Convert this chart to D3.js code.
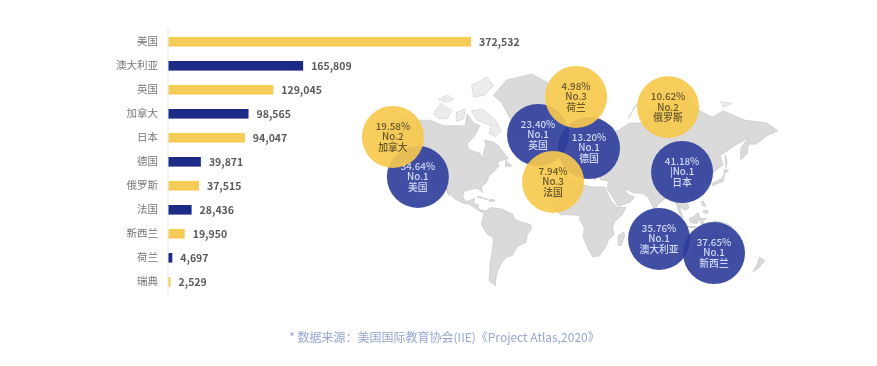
<!DOCTYPE html>
<html><head><meta charset="utf-8">
<script src="https://cdn.jsdelivr.net/npm/d3@7/dist/d3.min.js"></script>
<style>
html,body{margin:0;padding:0;background:#fff}
svg{display:block}
text{font-family:"Noto Sans CJK SC","Open Sans",sans-serif}
</style></head><body>
<svg id="c" width="877" height="366"></svg>
<script>
const categories=["美国","澳大利亚","英国","加拿大","日本","德国","俄罗斯","法国","新西兰","荷兰","瑞典"];
const values=[372532,165809,129045,98565,94047,39871,37515,28436,19950,4697,2529];
const barColors=["#f6cb56","#1c2a87"];
const bubbleCountry=["美国","加拿大","英国","德国","荷兰","法国","俄罗斯","日本","澳大利亚","新西兰"];
const bubbleShare=["34.64%","19.58%","23.40%","13.20%","4.98%","7.94%","10.62%","41.18%","35.76%","37.65%"];
const bubbleRank=["No.1","No.2","No.1","No.1","No.3","No.3","No.2","|No.1","No.1","No.1"];
const bubbleLon=[-139,-161.8,-29.2,17.4,5.5,-15.5,89.6,102.4,81.4,131.6];
const bubbleLat=[39.2,63.4,64.3,58,76.6,35.2,74,42.9,-19,-31.7];
const sourceText="* 数据来源：美国国际教育协会(IIE)《Project Atlas,2020》";
const land=[
// North America
[[-168,66],[-162,70],[-156,71],[-141,70],[-128,70],[-115,68],[-108,68],[-96,68],[-94,72],[-88,69],[-82,68],[-87,64],[-94,60],[-92,57],[-82,55],[-80,51],[-79,55],[-77,60],[-78,62],[-70,61],[-65,59],[-60,55],[-56,52],[-66,50],[-65,47],[-70,43],[-74,40],[-76,35],[-81,31],[-80,26],[-82,28],[-85,30],[-90,29],[-97,27],[-98,22],[-95,18],[-91,19],[-87,21],[-88,16],[-84,15],[-83,10],[-79,9],[-77,8],[-80,7],[-85,10],[-92,15],[-97,16],[-105,20],[-110,25],[-113,31],[-110,23],[-115,30],[-120,34],[-124,40],[-124,48],[-130,54],[-140,60],[-150,60],[-158,56],[-165,55],[-158,59],[-165,62]],
// Greenland
[[-70,77],[-58,80],[-35,81],[-20,79.5],[-20,74],[-26,69],[-40,65],[-44,60],[-52,65],[-54,70],[-62,75]],
[[-59,51],[-53,47],[-59,47]],
[[-85,22],[-75,20],[-78,20],[-82,22.5]],
[[-74,19.8],[-69,19.5],[-69,18],[-74,18]],
// South America
[[-78,8],[-72,12],[-62,10.5],[-52,5],[-50,0],[-44,-2.5],[-36,-5],[-35,-9],[-39,-15],[-40,-22],[-48,-26],[-53,-34],[-58,-35],[-62,-39],[-66,-45],[-68,-52],[-68,-55],[-74,-52],[-73,-40],[-71,-30],[-70,-18],[-76,-14],[-81,-5],[-80,1]],
// Africa
[[-17,15],[-16,22],[-10,30],[-6,36],[10,37],[11,33],[20,31],[32,31],[35,24],[38,18],[43,12],[51,12],[48,5],[41,-2],[39,-8],[40,-15],[35,-20],[33,-26],[27,-34],[21,-35],[16,-27],[12,-17],[13,-8],[9,0],[9,4],[-4,5],[-8,4.5],[-13,9]],
[[44,-16],[49,-12],[50,-16],[47,-25],[44,-25]],
// Eurasia
[[-9,37],[-9,43],[-1,44],[-4,48],[3,51],[8,54],[9,57],[12,54],[20,55],[24,59],[30,60],[22,60],[22,65],[18,62],[16,56],[12,56],[5,59],[6,62],[14,68],[25,71],[40,67],[34,65],[44,66],[54,69],[68,69],[72,73],[85,74],[105,78],[113,74],[130,71],[140,73],[160,70],[180,69],[190,66],[180,64],[170,60],[163,60],[162,55],[156,51],[156,58],[163,63],[150,59],[140,55],[137,54],[140,48],[130,42],[128,39],[129,35],[126,35],[125,39],[121,39],[118,38],[122,31],[120,26],[113,22],[108,21],[106,18],[109,12],[105,9],[100,13],[103,2],[100,6],[97,16],[91,22],[86,20],[80,15],[78,8],[73,18],[72,21],[67,25],[57,26],[50,30],[52,25],[59,22],[55,17],[44,13],[39,22],[34,29],[35,36],[28,37],[26,40],[23,37],[20,41],[13,45],[18,40],[16,38],[10,44],[3,43],[0,39],[-5,36]],
[[-6,50],[1,51],[-2,56],[-4,58.5],[-6,56],[-3,54]],
[[-10,52],[-6,52],[-6,55],[-9,54]],
[[-24,65],[-14,65],[-18,63.5],[-23,64]],
[[142,54],[143.5,50],[142.5,46],[141.8,50]],
[[130,32],[135,34],[140,35.5],[141,40],[141,45],[145,44],[141,41.5],[139,38],[133,35.5],[130,34]],
[[120,25],[122,25],[121,22]],
[[80,9.5],[82,7],[80,6]],
[[95,5.5],[104,-2],[106,-6],[102,-4],[98,1]],
[[109,1],[113,3],[117,7],[119,1],[116,-4],[110,-3]],
[[105,-6.5],[115,-7],[114,-8.5],[106,-7.7]],
[[119,1],[125,1],[121,-1],[123,-5],[120,-5]],
[[131,-1],[141,-3],[147,-6],[150,-10],[143,-9],[138,-7],[133,-4]],
[[120,18],[122,18],[124,13],[121,14]],
[[122,9],[126,9],[126,6],[122,7]],
[[114,-22],[122,-18],[129,-15],[136,-12],[137,-16],[142,-11],[146,-19],[153,-26],[150,-37],[144,-38],[138,-34],[131,-31],[124,-33],[115,-34]],
[[145,-41],[148,-41],[147,-43.5]],
[[173,-35],[178,-38],[175,-41],[172,-44],[167,-46],[171,-41]]
];
const arcticIslands=[
[[-125,72],[-118,75],[-108,73],[-112,70.5],[-120,70.5]],
[[-90,79],[-76,80.5],[-70,79],[-78,77],[-88,76.5]],
[[-90,73],[-80,73.5],[-68,70],[-63,66],[-68,63.5],[-74,65],[-72,68],[-85,70]],
[[-104,72.5],[-96,73.5],[-97,70.5],[-104,69.5]],
[[-120,76],[-112,77],[-106,76],[-114,75.3]],
[[10,78.5],[24,79.5],[20,77],[13,77]],
[[53,71],[67,76.5],[58,74],[55,71]],
[[95,80],[104,79],[98,78]],
[[138,75.5],[148,75],[140,74]]
];
const W=877,svg=d3.select("#c");
const defs=svg.append("defs");
defs.append("filter").attr("id","soft").append("feGaussianBlur").attr("stdDeviation",0.45);

// map: Mercator latitude through a projection, stretched in longitude with a linear scale
const proj=d3.geoMercator().scale(57.3).translate([0,0]);
const mx=d3.scaleLinear().domain([0,180]).range([570,767]);
const my=d3.scaleLinear().domain([0,-100]).range([219.6,119.6]);
const pt=([lon,lat])=>[mx(lon),my(proj([0,lat])[1])];
const line=d3.line().x(d=>pt(d)[0]).y(d=>pt(d)[1]).curve(d3.curveLinearClosed);
const gm=svg.append("g").attr("filter","url(#soft)");
gm.selectAll(".land").data(land).join("path").attr("class","land")
  .attr("d",line).attr("fill","#dadada").attr("stroke","#bdbdbd").attr("stroke-width",0.5);
gm.selectAll(".arctic").data(arcticIslands).join("path").attr("class","arctic")
  .attr("d",line).attr("fill","#ececec").attr("stroke","#b5b5b5").attr("stroke-width",0.6).attr("stroke-dasharray","1.5 1");

// bars
const x=d3.scaleLinear().domain([0,372532]).range([168.5,471]);
const y=d3.scaleBand().domain(categories).range([29.8,293.8]).paddingInner(0.6).paddingOuter(0.3);
const gb=svg.append("g").attr("filter","url(#soft)");
gb.append("line").attr("x1",168).attr("x2",168).attr("y1",28).attr("y2",296).attr("stroke","#e6e6e6");
gb.selectAll("rect").data(values).join("rect")
  .attr("x",x(0)).attr("y",(d,i)=>y(categories[i])).attr("width",d=>Math.max(1,x(d)-x(0))).attr("height",y.bandwidth())
  .attr("fill",(d,i)=>barColors[i%2]);
gb.selectAll(".cat").data(categories).join("text").attr("class","cat")
  .attr("x",158).attr("y",d=>y(d)+y.bandwidth()/2).attr("dy","0.35em").attr("text-anchor","end")
  .attr("font-size",10.5).attr("fill","#777").text(d=>d);
gb.selectAll(".val").data(values).join("text").attr("class","val")
  .attr("x",d=>x(d)+8).attr("y",(d,i)=>y(categories[i])+y.bandwidth()/2+0.5).attr("dy","0.35em")
  .attr("font-size",10.5).attr("font-weight",700).attr("fill","#5a5a5a").text(d3.format(","));

// bubbles
const gc=svg.append("g").attr("filter","url(#soft)");
bubbleCountry.forEach((c,i)=>{
  const [cx,cy]=pt([bubbleLon[i],bubbleLat[i]]);
  const blue=bubbleRank[i].includes("1");
  gc.append("circle").attr("cx",cx).attr("cy",cy).attr("r",31)
    .attr("fill",blue?"#2f3f9c":"#f6c94f").attr("fill-opacity",0.92);
  [bubbleShare[i],bubbleRank[i],c].forEach((t,j)=>{
    gc.append("text").attr("x",cx).attr("y",cy+(j-1)*10.6).attr("dy","0.35em").attr("text-anchor","middle")
      .attr("font-size",9.8).attr("font-weight",500).attr("fill",blue?"#d3daf6":"#66572c").text(t);
  });
});

svg.append("text").attr("x",444.5).attr("y",338).attr("dy","0.35em").attr("text-anchor","middle")
  .attr("font-size",12).attr("fill","#94a6d2").attr("filter","url(#soft)").text(sourceText);
</script>
</body></html>
